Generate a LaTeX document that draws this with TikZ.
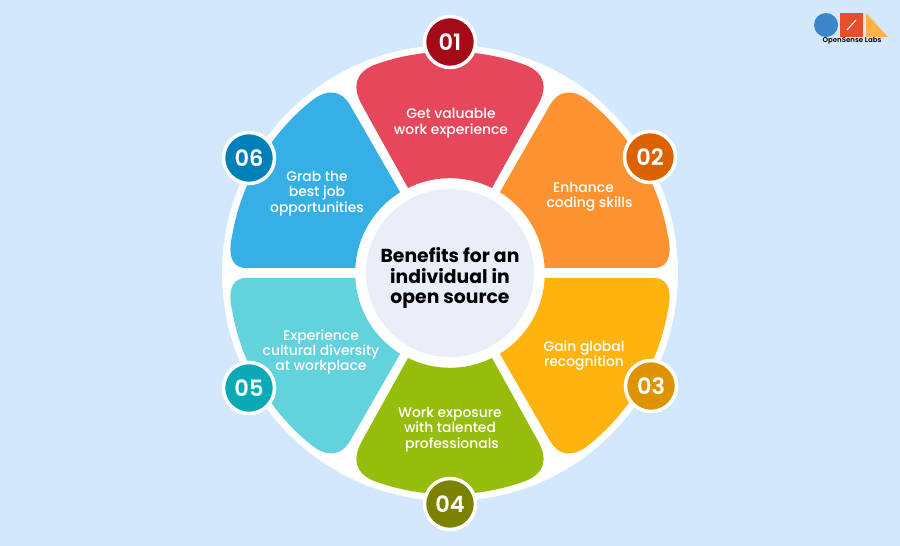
\documentclass[tikz,border=0pt]{standalone}
\usepackage{fontspec}
\setmainfont{Poppins}[UprightFont=* Medium,BoldFont=* SemiBold]
\newfontfamily\titlefont{Poppins}[UprightFont=* SemiBold,BoldFont=* Bold]
\definecolor{bgc}{HTML}{D3E8FD}
\definecolor{centerc}{HTML}{E9EEF9}
\definecolor{pa}{HTML}{E5485A}\definecolor{da}{HTML}{A50A18}
\definecolor{pb}{HTML}{FC9230}\definecolor{db}{HTML}{DC6200}
\definecolor{pc}{HTML}{FFB30F}\definecolor{dc}{HTML}{DE9400}
\definecolor{pd}{HTML}{96BC0C}\definecolor{dd}{HTML}{7A8200}
\definecolor{pe}{HTML}{62D2DC}\definecolor{de}{HTML}{09A9B6}
\definecolor{pf}{HTML}{36B0E4}\definecolor{df}{HTML}{0080B8}
\definecolor{lb}{HTML}{3B86C8}\definecolor{lr}{HTML}{E84E2B}\definecolor{ly}{HTML}{FFB347}
\tikzset{
  petaltext/.style={text=white,font=\fontsize{13.9}{15.4}\selectfont,align=center,inner sep=0pt},
  badge/.style={circle,draw=white,line width=3.5pt,minimum size=51pt,inner sep=0pt,text=white,font=\bfseries\fontsize{22.5}{24}\selectfont},
  toppetal/.pic={\fill[pic actions] (-42,85) -- (-88,168) .. controls (-98,186) and (-95,200) .. (-76,208)
     arc[start angle=110,end angle=70,radius=221.5]
     .. controls (95,200) and (98,186) .. (88,168) -- (42,85)
     arc[start angle=63.7,end angle=116.3,radius=94.8] -- cycle;},
  sidepetal/.pic={\fill[pic actions] (50,81) -- (100,168) .. controls (108,182) and (122,186) .. (140,171)
     arc[start angle=50.7,end angle=10,radius=221]
     .. controls (221,25) and (222,5) .. (204,5) -- (94.7,5)
     arc[start angle=3,end angle=58.3,radius=95] -- cycle;}
}
\begin{document}
\begin{tikzpicture}[x=1pt,y=1pt]
\useasboundingbox (0,0) rectangle (900,546);
\fill[bgc] (0,0) rectangle (900,546);
\coordinate (c) at (450,273);
\fill[white] (c) circle[radius=228];
\begin{scope}[shift={(450,273)}]
\pic[fill=pa] {toppetal};
\pic[fill=pb] {sidepetal};
\pic[fill=pc,yscale=-1] {sidepetal};
\pic[fill=pd,yscale=-1] {toppetal};
\pic[fill=pe,xscale=-1,yscale=-1] {sidepetal};
\pic[fill=pf,xscale=-1] {sidepetal};
\end{scope}
\fill[centerc] (c) circle[radius=84];
\node[inner sep=0pt,align=center,text=black,font=\titlefont\bfseries\fontsize{18.8}{20.4}\selectfont] (title) at (450,268) {Benefits for an\\individual in\\open source};
\node[badge,fill=da] (n1) at (450,504) {01};
\node[badge,fill=db] (n2) at (650,389) {02};
\node[badge,fill=dc] (n3) at (651,160) {03};
\node[badge,fill=dd] (n4) at (450,42) {04};
\node[badge,fill=de] (n5) at (249,158) {05};
\node[badge,fill=df] (n6) at (249,388) {06};
\node[petaltext] (t1) at (451,423) {Get valuable\\work experience};
\node[petaltext] (t2) at (589.5,349) {Enhance\hspace*{12pt}\\coding skills};
\node[petaltext] (t3) at (584,190.5) {Gain global\\recognition};
\node[petaltext] (t4) at (450,116.5) {Work exposure\\with talented\\\hspace*{4pt}professionals};
\node[petaltext] (t5) at (321,194) {Experience\\cultural diversity\\at workplace};
\node[petaltext] (t6) at (317,352.5) {Grab the\\best job\\opportunities};
\fill[lb] (826,521) circle[radius=12];
\fill[lr] (840,509) rectangle (863,533);
\draw[white,line width=1pt] (847,516) -- (856,526);
\fill[ly] (866,533) -- (888,509) -- (866,509) -- cycle;
\node[inner sep=0pt,font=\bfseries\fontsize{7}{8}\selectfont,text=black] (logo) at (852,505) {OpenSense Labs};
\end{tikzpicture}
\end{document}
